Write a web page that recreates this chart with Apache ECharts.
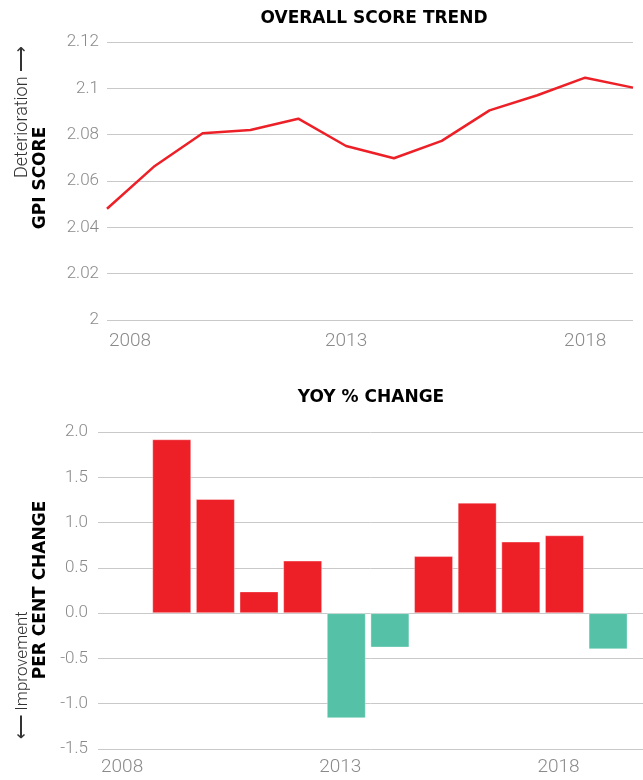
<!DOCTYPE html>
<html>
<head>
<meta charset="utf-8">
<script src="https://cdn.jsdelivr.net/npm/echarts@6/dist/echarts.min.js"></script>
<style>
  html, body { margin: 0; padding: 0; background: #fff; }
  #chart { width: 643px; height: 780px; }
</style>
</head>
<body>
<div id="chart"></div>
<script>
// overall score trend
const years = [2008, 2009, 2010, 2011, 2012, 2013, 2014, 2015, 2016, 2017, 2018, 2019]
const gpiScore = [2.048, 2.0665, 2.0806, 2.082, 2.0869, 2.0751, 2.0698, 2.0773, 2.0905, 2.097, 2.1046, 2.1003]

// year on year % change
const changeYears = [2009, 2010, 2011, 2012, 2013, 2014, 2015, 2016, 2017, 2018, 2019]
const yoyChange = [1.92, 1.26, 0.24, 0.58, -1.16, -0.38, 0.63, 1.22, 0.79, 0.86, -0.40]

const yearTicks = [2008, 2013, 2018]

const RED = '#ED2028'
const TEAL = '#55C2A8'
const GREY = '#8a8a8a'
const FONT = 'Roboto, "Noto Sans", sans-serif'
const HEAVY = '"DejaVu Sans", sans-serif'

const chart = echarts.init(document.getElementById('chart'))

const axisText = (size) => ({
  color: GREY,
  fontFamily: FONT,
  fontWeight: 300,
  fontSize: size
})

// rotated / heading texts
const label = (text, x, y, font, fill, rotation) => ({
  type: 'text', x, y, rotation: rotation || 0,
  style: { text, fill, font, textAlign: 'center', textVerticalAlign: 'middle' }
})

chart.setOption({
  animation: false,
  grid: [
    { left: 107, right: 10, top: 42, height: 278 },
    { left: 98, right: 0, top: 432, height: 317 }
  ],
  xAxis: [
    {
      gridIndex: 0,
      type: 'value',
      min: 2008,
      max: 2019,
      splitLine: { show: false },
      axisLine: { show: false },
      axisTick: { show: false },
      axisLabel: {
        ...axisText(19),
        margin: 12,
        customValues: yearTicks,
        formatter: v => (v === 2008 ? '{first|' + v + '}' : String(v)),
        rich: {
          first: { ...axisText(19), padding: [0, 0, 0, 46] }
        }
      }
    },
    {
      gridIndex: 1,
      type: 'value',
      min: 2007.31,
      max: 2019.8,
      splitLine: { show: false },
      axisLine: { show: false },
      axisTick: { show: false },
      axisLabel: {
        ...axisText(19),
        margin: 9,
        customValues: yearTicks,
        formatter: v => '{a|' + v + '}',
        rich: {
          a: { ...axisText(19), padding: [0, 12, 0, 0] }
        }
      }
    }
  ],
  yAxis: [
    {
      gridIndex: 0,
      type: 'value',
      min: 2,
      max: 2.12,
      interval: 0.02,
      axisLine: { show: false },
      axisTick: { show: false },
      axisLabel: { ...axisText(17), margin: 8 },
      splitLine: { lineStyle: { color: '#c9c9c9', width: 1 } }
    },
    {
      gridIndex: 1,
      type: 'value',
      min: -1.5,
      max: 2,
      interval: 0.5,
      axisLine: { show: false },
      axisTick: { show: false },
      axisLabel: {
        ...axisText(17),
        margin: 10,
        formatter: v => v.toFixed(1)
      },
      splitLine: { lineStyle: { color: '#c9c9c9', width: 1 } }
    }
  ],
  graphic: [
    label('OVERALL SCORE TREND', 374, 19, 'bold 17px ' + HEAVY, '#000'),
    label('YOY % CHANGE', 371, 398, 'bold 17px ' + HEAVY, '#000'),
    label('Deterioration \u27F6', 22, 112, '300 18px ' + FONT, '#333', Math.PI / 2),
    label('GPI SCORE', 41, 178, 'bold 17px ' + HEAVY, '#000', Math.PI / 2),
    label('\u27F5 Improvement', 23, 675, '300 17px ' + FONT, '#333', Math.PI / 2),
    label('PER CENT CHANGE', 41, 590, 'bold 17px ' + HEAVY, '#000', Math.PI / 2)
  ],
  series: [
    {
      type: 'line',
      xAxisIndex: 0,
      yAxisIndex: 0,
      data: years.map((y, i) => [y, gpiScore[i]]),
      symbol: 'none',
      lineStyle: { color: RED, width: 2.5 }
    },
    {
      type: 'bar',
      xAxisIndex: 1,
      yAxisIndex: 1,
      data: changeYears.map((y, i) => [y, yoyChange[i]]),
      barWidth: 39,
      itemStyle: {
        color: p => (p.value[1] >= 0 ? RED : TEAL),
        borderColor: 'rgba(255,255,255,0.35)',
        borderWidth: 1
      }
    }
  ]
})
</script>
</body>
</html>
